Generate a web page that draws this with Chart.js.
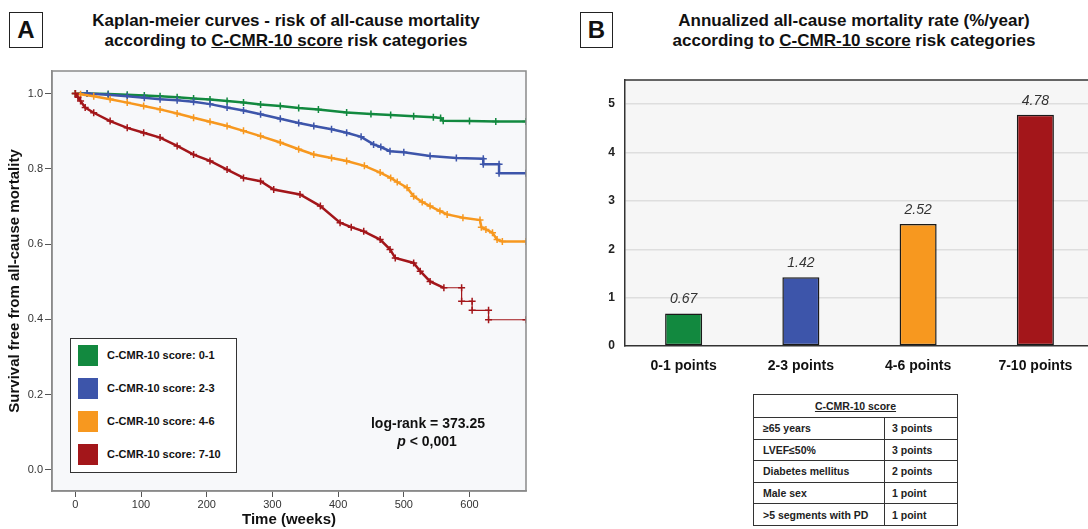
<!DOCTYPE html>
<html>
<head>
<meta charset="utf-8">
<script src="https://cdn.jsdelivr.net/npm/chart.js@4.4.1/dist/chart.umd.min.js"></script>
<style>
  html, body { margin: 0; padding: 0; background: #fff; overflow: hidden; width: 1088px; height: 529px; }
  body { position: relative; font-family: "Liberation Sans", Arial, sans-serif; color: #111; }
  .abs { position: absolute; }
  .tag { border: 1.5px solid #222; font-weight: bold; font-size: 24px; text-align: center; box-sizing: border-box; line-height: 33px; }
  .ttl { font-weight: bold; font-size: 17px; line-height: 19.5px; text-align: center; white-space: nowrap; }
  .legend { border: 1.5px solid #333; background: #fff; box-sizing: border-box; }
  .sw { width: 20px; height: 21px; }
  .lg { font-weight: bold; font-size: 11px; line-height: 21px; white-space: nowrap; }
  .lr { font-weight: bold; font-size: 14px; line-height: 18px; text-align: center; white-space: nowrap; }
  table { border-collapse: collapse; font-size: 10.5px; font-weight: bold; color: #222; }
  td { border: 1px solid #333; padding: 0; height: 20.6px; }
</style>
</head>
<body>

<div class="abs tag" style="left:9px;top:12px;width:34px;height:36px;">A</div>
<div class="abs ttl" style="left:86px;top:11px;width:400px;">Kaplan-meier curves - risk of all-cause mortality<br>according to <u>C-CMR-10 score</u> risk categories</div>

<div class="abs tag" style="left:580px;top:12px;width:33px;height:36px;">B</div>
<div class="abs ttl" style="left:654px;top:11px;width:400px;">Annualized all-cause mortality rate (%/year)<br>according to <u>C-CMR-10 score</u> risk categories</div>

<canvas id="km" class="abs" style="left:0;top:60px;" width="540" height="469"></canvas>
<canvas id="bars" class="abs" style="left:580px;top:60px;" width="520" height="320"></canvas>

<div id="legend" class="abs legend" style="left:70px;top:338px;width:167px;height:135px;"></div>
<div class="abs lr" style="left:348px;top:414px;width:160px;">log-rank = 373.25</div>
<div class="abs lr" style="left:347px;top:432px;width:160px;"><i>p</i> &lt; 0,001</div>

<table class="abs" style="left:753px;top:394px;width:205px;">
  <tr><td colspan="2" style="text-align:center;height:22px;"><u>C-CMR-10 score</u></td></tr>
  <tr><td style="width:121px;padding-left:9px;">&ge;65 years</td><td style="padding-left:7px;">3 points</td></tr>
  <tr><td style="padding-left:9px;">LVEF&le;50%</td><td style="padding-left:7px;">3 points</td></tr>
  <tr><td style="padding-left:9px;">Diabetes mellitus</td><td style="padding-left:7px;">2 points</td></tr>
  <tr><td style="padding-left:9px;">Male sex</td><td style="padding-left:7px;">1 point</td></tr>
  <tr><td style="padding-left:9px;">&gt;5 segments with PD</td><td style="padding-left:7px;">1 point</td></tr>
</table>

<script>
// Kaplan-Meier curves (time in weeks, survival); repeated times are the visible drops
const kmLabels = ['C-CMR-10 score: 0-1', 'C-CMR-10 score: 2-3', 'C-CMR-10 score: 4-6', 'C-CMR-10 score: 7-10'];
const kmColors = ['#12893f', '#3d55aa', '#f7981f', '#a3161a'];

const greenT = [0, 18, 50, 79, 105, 129, 155, 180, 205, 231, 256, 282, 312, 340, 370, 413, 450, 480, 515, 545, 556, 560, 600, 640, 686];
const greenS = [1.0, 1.0, 0.999, 0.997, 0.995, 0.993, 0.99, 0.987, 0.984, 0.98, 0.976, 0.971, 0.967, 0.962, 0.958, 0.95, 0.946, 0.943, 0.94, 0.937, 0.935, 0.928, 0.927, 0.926, 0.926];

const blueT = [0, 18, 50, 79, 105, 129, 155, 180, 205, 231, 256, 282, 312, 340, 363, 390, 413, 435, 454, 465, 479, 500, 540, 580, 621, 621, 645, 645, 686];
const blueS = [1.0, 1.0, 0.997, 0.993, 0.989, 0.985, 0.982, 0.978, 0.972, 0.963, 0.955, 0.945, 0.933, 0.922, 0.914, 0.905, 0.896, 0.885, 0.865, 0.858, 0.847, 0.844, 0.834, 0.829, 0.827, 0.812, 0.812, 0.788, 0.788];

const orangeT = [0, 8, 28, 53, 79, 104, 129, 155, 180, 205, 231, 256, 282, 312, 340, 363, 390, 413, 440, 464, 480, 490, 505, 515, 528, 540, 555, 566, 590, 616, 618, 625, 635, 642, 650, 686];
const orangeS = [1.0, 0.998, 0.993, 0.985, 0.976, 0.967, 0.958, 0.947, 0.936, 0.925, 0.914, 0.901, 0.887, 0.870, 0.852, 0.838, 0.829, 0.821, 0.808, 0.790, 0.776, 0.765, 0.750, 0.727, 0.712, 0.701, 0.688, 0.679, 0.670, 0.664, 0.645, 0.639, 0.630, 0.612, 0.607, 0.607];

const redT = [0, 4, 8, 15, 28, 53, 79, 104, 129, 155, 180, 205, 231, 256, 282, 302, 342, 373, 403, 420, 439, 464, 479, 487, 515, 525, 540, 561, 588, 588, 604, 604, 629, 629, 686];
const redS = [1.0, 0.99, 0.98, 0.963, 0.949, 0.927, 0.909, 0.896, 0.883, 0.861, 0.838, 0.821, 0.798, 0.776, 0.767, 0.745, 0.732, 0.701, 0.657, 0.645, 0.634, 0.612, 0.586, 0.563, 0.550, 0.528, 0.501, 0.484, 0.484, 0.448, 0.448, 0.424, 0.424, 0.399, 0.399];

const kmTicksX = [0, 100, 200, 300, 400, 500, 600];
const kmTicksY = [0, 0.2, 0.4, 0.6, 0.8, 1.0];

// Annualized mortality rate (%/year)
const rateCats = ['0-1 points', '2-3 points', '4-6 points', '7-10 points'];
const rateVals = [0.67, 1.42, 2.52, 4.78];
const rateTicks = [0, 1, 2, 3, 4, 5];

const FONT = '"Liberation Sans", Arial, sans-serif';
Chart.defaults.font.family = FONT;

function toXY(ts, ss) {
  return ts.map((t, i) => ({x: t, y: ss[i]}));
}

const curves = [[greenT, greenS], [blueT, blueS], [orangeT, orangeS], [redT, redS]];

// legend built from labels/colors
const lg = document.getElementById('legend');
kmLabels.forEach((lab, i) => {
  const sq = document.createElement('div');
  sq.className = 'abs sw';
  sq.style.left = '7px';
  sq.style.top = (6 + i * 33) + 'px';
  sq.style.background = kmColors[i];
  lg.appendChild(sq);
  const tx = document.createElement('div');
  tx.className = 'abs lg';
  tx.style.left = '36px';
  tx.style.top = (6 + i * 33) + 'px';
  tx.textContent = lab;
  lg.appendChild(tx);
});

const kmBox = {
  id: 'kmBox',
  beforeDraw(chart) {
    const {ctx, chartArea: a} = chart;
    ctx.save();
    ctx.fillStyle = '#f7f8fa';
    ctx.fillRect(a.left, a.top, a.right - a.left, a.bottom - a.top);
    ctx.restore();
  },
  afterDraw(chart) {
    const {ctx, chartArea: a} = chart;
    ctx.save();
    ctx.strokeStyle = '#8a8a8a';
    ctx.lineWidth = 1.5;
    ctx.strokeRect(a.left, a.top, a.right - a.left, a.bottom - a.top);
    ctx.restore();
  }
};

new Chart(document.getElementById('km').getContext('2d'), {
  type: 'line',
  data: {
    datasets: curves.map((c, i) => ({
      label: kmLabels[i],
      data: toXY(c[0], c[1]),
      tension: 0,
      borderColor: kmColors[i],
      backgroundColor: kmColors[i],
      borderWidth: 2.5,
      pointStyle: 'cross',
      pointRadius: 3.5,
      pointBorderWidth: 1.5,
      pointBorderColor: kmColors[i],
      fill: false,
      segment: i === 3 ? { borderWidth: ctx => ctx.p0.parsed.x >= 561 ? 1.2 : 2.5 } : undefined
    })).reverse()
  },
  options: {
    responsive: false,
    animation: false,
    layout: { padding: { top: 11, right: 14, left: 0, bottom: 0 } },
    plugins: { legend: { display: false }, tooltip: { enabled: false } },
    scales: {
      x: {
        type: 'linear', min: -35.5, max: 686,
        afterBuildTicks: s => { s.ticks = kmTicksX.map(v => ({value: v})); },
        afterFit: s => { s.height = 38; },
        grid: { drawOnChartArea: false, tickLength: 6, color: '#555' },
        border: { color: '#8a8a8a', width: 1.5 },
        ticks: { font: { size: 11 }, color: '#333', padding: 1 },
        title: { display: true, text: 'Time (weeks)', font: { size: 15, weight: 'bold' }, color: '#111', padding: { top: 0, bottom: 0 } }
      },
      y: {
        min: -0.056, max: 1.06,
        afterBuildTicks: s => { s.ticks = kmTicksY.map(v => ({value: v})); },
        afterFit: s => { s.width = 52; },
        grid: { drawOnChartArea: false, tickLength: 7, color: '#555' },
        border: { color: '#8a8a8a', width: 1.5 },
        ticks: { font: { size: 11 }, color: '#333', padding: 2, callback: v => v.toFixed(1) },
        title: { display: true, text: 'Survival free from all-cause mortality', font: { size: 15, weight: 'bold' }, color: '#111', padding: { top: 6, bottom: 0 } }
      }
    }
  },
  plugins: [kmBox]
});

const barBox = {
  id: 'barBox',
  beforeDraw(chart) {
    const {ctx, chartArea: a} = chart;
    ctx.save();
    ctx.fillStyle = '#f6f6f6';
    ctx.fillRect(a.left, a.top, a.right - a.left, a.bottom - a.top);
    ctx.restore();
  },
  afterDraw(chart) {
    const {ctx, chartArea: a} = chart;
    ctx.save();
    ctx.strokeStyle = '#333';
    ctx.lineWidth = 1.5;
    ctx.beginPath();
    ctx.moveTo(a.left, a.top);
    ctx.lineTo(a.right, a.top);
    ctx.stroke();
    ctx.restore();
  },
  afterDatasetsDraw(chart) {
    const {ctx} = chart;
    const meta = chart.getDatasetMeta(0);
    ctx.save();
    ctx.font = 'italic 14px ' + FONT;
    ctx.fillStyle = '#333';
    ctx.textAlign = 'center';
    ctx.textBaseline = 'middle';
    meta.data.forEach((bar, i) => {
      ctx.fillText(rateVals[i].toFixed(2), bar.x, bar.y - 14);
    });
    ctx.restore();
  }
};

new Chart(document.getElementById('bars').getContext('2d'), {
  type: 'bar',
  data: {
    labels: rateCats,
    datasets: [{
      data: rateVals,
      backgroundColor: kmColors,
      borderColor: '#1a1a1a',
      borderWidth: 1.5,
      borderSkipped: false,
      barPercentage: 0.316,
      categoryPercentage: 1.0
    }]
  },
  options: {
    responsive: false,
    animation: false,
    layout: { padding: { top: 20, right: 6, left: 0, bottom: 0 } },
    plugins: { legend: { display: false }, tooltip: { enabled: false } },
    scales: {
      x: {
        afterFit: s => { s.height = 34; },
        grid: { display: false },
        border: { color: '#333', width: 1.5 },
        ticks: { font: { size: 14, weight: 'bold' }, color: '#111', padding: 4 }
      },
      y: {
        min: 0, max: 5.5,
        afterBuildTicks: s => { s.ticks = rateTicks.map(v => ({value: v})); },
        afterFit: s => { s.width = 45; },
        grid: { color: c => c.tick && c.tick.value === 0 ? 'rgba(0,0,0,0)' : '#dedede', lineWidth: 1.5, drawTicks: false },
        border: { color: '#333', width: 1.5 },
        ticks: { font: { size: 12, weight: 'bold' }, color: '#222', padding: 10 }
      }
    }
  },
  plugins: [barBox]
});
</script>
</body>
</html>
